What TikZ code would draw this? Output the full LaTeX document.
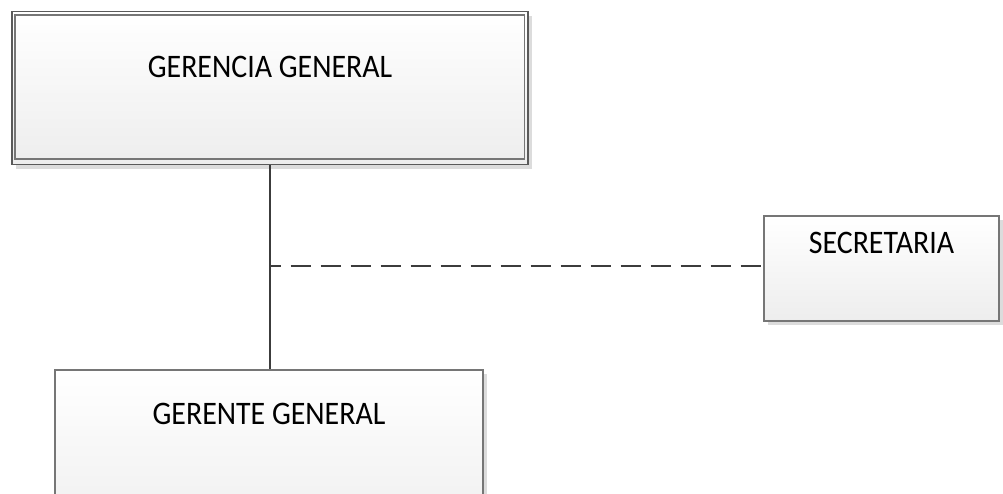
\documentclass[tikz,border=0pt]{standalone}
\usepackage{fontspec}
\setmainfont{Carlito}
\usetikzlibrary{shadows}
\definecolor{linegray}{HTML}{3C3C3C}
\definecolor{framegray}{HTML}{767676}
\definecolor{outergray}{HTML}{5A5A5A}
\definecolor{shadowgray}{HTML}{DCDCDC}
\newcommand{\tallcaps}[1]{\scalebox{1}[1.1]{#1}}
\tikzset{
  box/.style={rectangle, draw=framegray, line width=1.4pt,
    top color=white, bottom color=black!7,
    general shadow={fill=shadowgray, shadow xshift=3.2pt, shadow yshift=-3.2pt},
    inner sep=0pt},
  boxtext/.style={anchor=base, inner sep=0pt, font=\fontsize{22.4}{27}\selectfont},
  link/.style={draw=linegray, line width=1.7pt},
  dashlink/.style={link, line width=2pt, dash pattern=on 15pt off 7.5pt, dash phase=7pt}
}
\begin{document}
\begin{tikzpicture}[x=0.75pt, y=-0.75pt]
  \useasboundingbox (0,0) rectangle (1003,493);
  \clip (0,0) rectangle (1003,493);

  % top box with double frame
  \node[box, draw=outergray, line width=0.9pt, minimum width=516*0.75pt, minimum height=153*0.75pt]
    (gg) at (270,88) {};
  \draw[framegray, line width=1.3pt]
    ([xshift=2.9pt,yshift=-2.9pt]gg.north west) rectangle ([xshift=-3.0pt,yshift=4.8pt]gg.south east);
  \node[boxtext] (ggtxt) at (270,77) {\tallcaps{GERENCIA GENERAL}};

  % secretary box
  \node[box, minimum width=235*0.75pt, minimum height=105*0.75pt]
    (sec) at (881.5,268.5) {};
  \node[boxtext] (sectxt) at (881.5,253) {\tallcaps{SECRETARIA}};

  % lower box, running past the bottom edge
  \node[box, minimum width=428*0.75pt, minimum height=180*0.75pt]
    (gte) at (269,460) {};
  \node[boxtext] (gtetxt) at (269,424) {\tallcaps{GERENTE GENERAL}};

  % connectors
  \coordinate (jn) at (270,266);
  \draw[link] (gg.south) -- (gg.south |- gte.north);
  \draw[dashlink] (jn) -- (jn -| sec.west);
\end{tikzpicture}
\end{document}
